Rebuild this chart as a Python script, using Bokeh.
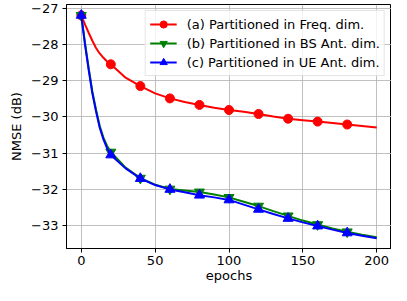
from bokeh.plotting import figure
from bokeh.models import Legend, LegendItem, FixedTicker, Range1d
from bokeh.embed import file_html
from bokeh.resources import INLINE

epochs = [0, 2.5, 5, 7.5, 10, 12.5, 15, 17.5, 20, 30, 40, 50, 60, 70, 80, 90,
          100, 110, 120, 130, 140, 150, 160, 170, 180, 190, 200]
nmse_freq = [-27.2, -27.45, -27.68, -27.9, -28.1, -28.25, -28.37, -28.47, -28.55,
             -28.92, -29.15, -29.35, -29.49, -29.59, -29.67, -29.75, -29.81,
             -29.86, -29.92, -29.99, -30.05, -30.09, -30.13, -30.17, -30.21,
             -30.25, -30.29]
nmse_bs = [-27.2, -27.95, -28.65, -29.3, -29.8, -30.25, -30.57, -30.8, -30.97,
           -31.4, -31.69, -31.87, -31.99, -32.03, -32.07, -32.14, -32.22,
           -32.34, -32.46, -32.6, -32.73, -32.86, -32.97, -33.08, -33.17,
           -33.25, -33.32]
nmse_ue = [-27.2, -28.0, -28.7, -29.35, -29.85, -30.3, -30.62, -30.87, -31.05,
           -31.42, -31.7, -31.88, -32.0, -32.08, -32.16, -32.22, -32.29,
           -32.42, -32.55, -32.68, -32.8, -32.91, -33.01, -33.11, -33.2,
           -33.28, -33.35]
marker_epochs = [0, 20, 40, 60, 80, 100, 120, 140, 160, 180]
labels = ["(a) Partitioned in Freq. dim.",
          "(b) Partitioned in BS Ant. dim.",
          "(c) Partitioned in UE Ant. dim."]
x_ticks = [0, 50, 100, 150, 200]
y_ticks = [-33, -32, -31, -30, -29, -28, -27]

FONT = "DejaVu Sans"

p = figure(width=391, height=285, output_backend="svg", toolbar_location=None,
           x_range=Range1d(-10, 210), y_range=Range1d(-33.63, -26.9))
p.min_border_left = 66
p.min_border_right = 0
p.min_border_top = 4
p.min_border_bottom = 34
p.outline_line_color = "black"
p.outline_line_width = 1
p.background_fill_color = "white"
p.border_fill_color = "white"

for ax in (p.xaxis[0], p.yaxis[0]):
    ax.axis_line_color = "black"
    ax.major_tick_line_color = "black"
    ax.minor_tick_line_color = None
    ax.major_tick_in = 0
    ax.major_tick_out = 4
    ax.major_label_text_font = FONT
    ax.major_label_text_font_size = "13px"
    ax.major_label_text_color = "black"
    ax.axis_label_text_font = FONT
    ax.axis_label_text_font_size = "13px"
    ax.axis_label_text_font_style = "normal"
    ax.axis_label_text_color = "black"

p.xaxis.ticker = FixedTicker(ticks=x_ticks)
p.yaxis.ticker = FixedTicker(ticks=y_ticks)
p.yaxis.major_label_overrides = {t: "\u2212" + str(abs(t)) for t in y_ticks}
p.xaxis.axis_label = "epochs"
p.yaxis.axis_label = "NMSE (dB)"
p.xaxis.axis_label_standoff = 0
p.yaxis.axis_label_standoff = 4
p.xaxis.major_label_standoff = 3
p.yaxis.major_label_standoff = 4

p.grid.grid_line_color = "#b0b0b0"
p.grid.grid_line_width = 1
p.grid.grid_line_alpha = 0.8

def markers(ys):
    return [y for e, y in zip(epochs, ys) if e in marker_epochs]

series = [
    (nmse_freq, "red", "circle", 9),
    (nmse_bs, "green", "inverted_triangle", 10),
    (nmse_ue, "blue", "triangle", 10),
]
items = []
for (ys, color, marker, size), label in zip(series, labels):
    r1 = p.line(epochs, ys, line_color=color, line_width=2)
    r2 = p.scatter(marker_epochs, markers(ys), marker=marker, size=size,
                   fill_color=color, line_color=color)
    items.append(LegendItem(label=label, renderers=[r1, r2]))

legend = Legend(items=items, location="top_right")
legend.label_text_font = FONT
legend.label_text_font_size = "13px"
legend.label_text_color = "black"
legend.border_line_color = "#cccccc"
legend.border_line_width = 1
legend.background_fill_alpha = 0.8
legend.glyph_width = 27
legend.glyph_height = 18
legend.label_height = 18
legend.label_standoff = 10
legend.spacing = 1
legend.padding = 4
legend.margin = 6
p.add_layout(legend, "center")

open("out.html", "w").write(file_html(p, INLINE))
